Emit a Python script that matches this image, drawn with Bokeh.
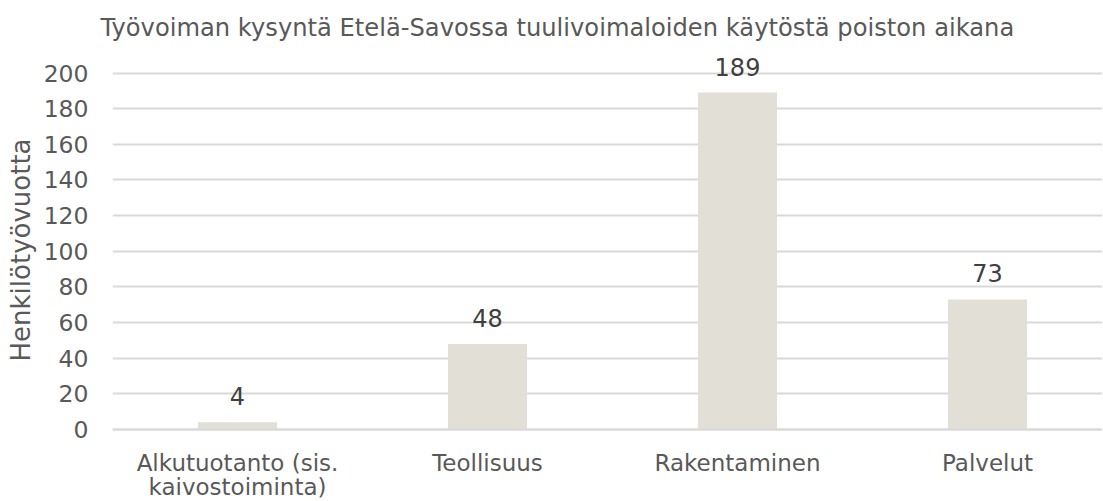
from bokeh.plotting import figure
from bokeh.models import ColumnDataSource, FixedTicker, Range1d, Title
from bokeh.embed import file_html
from bokeh.resources import INLINE

categories = ["Alkutuotanto (sis.\nkaivostoiminta)", "Teollisuus", "Rakentaminen", "Palvelut"]
values = [4, 48, 189, 73]
y_ticks = [0, 20, 40, 60, 80, 100, 120, 140, 160, 180, 200]

FONT = "DejaVu Sans"
GREY = "#595959"
GRID = "#D9D9D9"

xpos = [i + 0.5 for i in range(len(categories))]
src = ColumnDataSource(dict(x=xpos, top=values, lab=[str(v) for v in values]))

p = figure(width=1102, height=500, output_backend="svg", toolbar_location=None,
           x_range=Range1d(0, 3.96), y_range=Range1d(-39.83, 210.38),
           min_border_left=112, min_border_right=0, min_border_top=54, min_border_bottom=0)
p.outline_line_color = None

p.title.text = "Työvoiman kysyntä Etelä-Savossa tuulivoimaloiden käytöstä poiston aikana"
p.title.text_font = FONT
p.title.text_font_size = "24.2px"
p.title.text_font_style = "normal"
p.title.text_color = GREY
p.title.align = "left"
p.title.vertical_align = "middle"
p.title.offset = -12
p.title.standoff = 24

ylab = Title(text="Henkilötyövuotta", text_font=FONT, text_font_size="26px",
             text_font_style="normal", text_color=GREY, align="left",
             vertical_align="middle", offset=139, standoff=8)
p.add_layout(ylab, "left")

p.vbar(x="x", top="top", width=0.316, source=src, fill_color="#E2DFD7", line_color=None)
p.text(x="x", y="top", text="lab", source=src, text_align="center", text_baseline="alphabetic",
       y_offset=-26, text_font_size="24px", text_color="#404040", text_font={"value": FONT})

p.xgrid.grid_line_color = None
p.ygrid.grid_line_color = GRID
p.ygrid.grid_line_width = 2
p.ygrid.ticker = FixedTicker(ticks=y_ticks)

p.yaxis.ticker = FixedTicker(ticks=y_ticks)
p.yaxis.axis_line_color = None
p.yaxis.major_tick_line_color = None
p.yaxis.minor_tick_line_color = None
p.yaxis.major_tick_out = 0
p.yaxis.major_tick_in = 0
p.yaxis.minor_tick_out = 0
p.yaxis.major_label_standoff = 24
p.yaxis.major_label_text_font = FONT
p.yaxis.major_label_text_font_size = "23.5px"
p.yaxis.major_label_text_color = GREY

p.xaxis.fixed_location = 0
p.xaxis.ticker = FixedTicker(ticks=xpos)
p.xaxis.major_label_overrides = {x: c for x, c in zip(xpos, categories)}
p.xaxis.axis_line_color = GRID
p.xaxis.axis_line_width = 2
p.xaxis.major_tick_line_color = None
p.xaxis.minor_tick_line_color = None
p.xaxis.major_tick_out = 0
p.xaxis.major_tick_in = 0
p.xaxis.minor_tick_out = 0
p.xaxis.major_label_standoff = 20
p.xaxis.major_label_text_font = FONT
p.xaxis.major_label_text_font_size = "23px"
p.xaxis.major_label_text_color = GREY
p.xaxis.major_label_text_line_height = 0.94

open("out.html", "w").write(file_html(p, INLINE))
